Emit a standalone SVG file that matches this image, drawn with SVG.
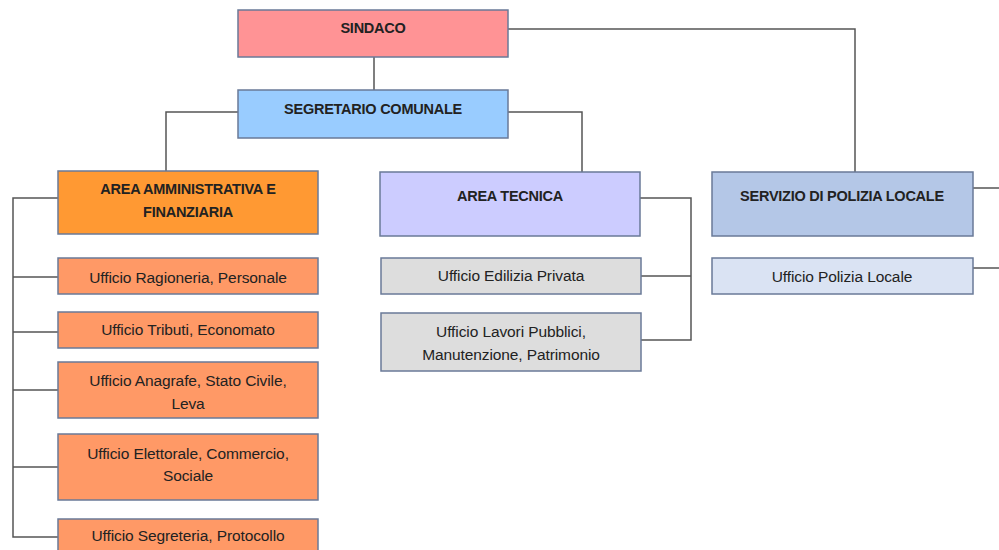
<svg xmlns="http://www.w3.org/2000/svg" width="999" height="550" viewBox="0 0 999 550">
<style>
.b{stroke:#6a7a98;stroke-width:1.5}
.c{fill:none;stroke:#555;stroke-width:1.5}
text{font-family:"Liberation Sans",Arial,sans-serif;fill:#222;text-anchor:middle;dominant-baseline:central}
.h{font-weight:bold;font-size:14.5px;letter-spacing:-0.25px}
.t{font-size:15.5px;letter-spacing:-0.1px}
</style>
<rect width="999" height="550" fill="#fff"/>
<g id="connectors">
<path class="c" d="M374 57V90"/>
<path class="c" d="M508 29H855V172"/>
<path class="c" d="M508 112H582V172"/>
<path class="c" d="M238 112H166V171"/>
<path class="c" d="M58 198H13V537H58M13 277H58M13 332H58M13 390H58M13 467H58"/>
<path class="c" d="M640 198H691V340H641M641 276H691"/>
<path class="c" d="M973 188H999M973 268H999"/>
</g>
<g id="sindaco"><rect class="b" x="238" y="10" width="270" height="47" fill="#ff9395"/><text class="h" x="373" y="28">SINDACO</text></g>
<g id="segretario"><rect class="b" x="238" y="90" width="270" height="48" fill="#99ccff"/><text class="h" x="373" y="109">SEGRETARIO COMUNALE</text></g>
<g id="area-amm"><rect class="b" x="58" y="171" width="260" height="63" fill="#ff9933"/><text class="h" x="188" y="189">AREA AMMINISTRATIVA E</text><text class="h" x="188" y="212">FINANZIARIA</text></g>
<g id="uff-ragioneria"><rect class="b" x="58" y="258" width="260" height="36" fill="#ff9966"/><text class="t" x="188" y="277">Ufficio Ragioneria, Personale</text></g>
<g id="uff-tributi"><rect class="b" x="58" y="312" width="260" height="36" fill="#ff9966"/><text class="t" x="188" y="329">Ufficio Tributi, Economato</text></g>
<g id="uff-anagrafe"><rect class="b" x="58" y="362" width="260" height="56" fill="#ff9966"/><text class="t" x="188" y="380">Ufficio Anagrafe, Stato Civile,</text><text class="t" x="188" y="403">Leva</text></g>
<g id="uff-elettorale"><rect class="b" x="58" y="434" width="260" height="66" fill="#ff9966"/><text class="t" x="188" y="453">Ufficio Elettorale, Commercio,</text><text class="t" x="188" y="475">Sociale</text></g>
<g id="uff-segreteria"><rect class="b" x="58" y="519" width="260" height="40" fill="#ff9966"/><text class="t" x="188" y="535">Ufficio Segreteria, Protocollo</text></g>
<g id="area-tecnica"><rect class="b" x="380" y="172" width="260" height="64" fill="#ccccff"/><text class="h" x="510" y="196">AREA TECNICA</text></g>
<g id="uff-edilizia"><rect class="b" x="381" y="258" width="260" height="36" fill="#dddddd"/><text class="t" x="511" y="275">Ufficio Edilizia Privata</text></g>
<g id="uff-lavori"><rect class="b" x="381" y="313" width="260" height="58" fill="#dddddd"/><text class="t" x="511" y="331">Ufficio Lavori Pubblici,</text><text class="t" x="511" y="354">Manutenzione, Patrimonio</text></g>
<g id="servizio-polizia"><rect class="b" x="712" y="172" width="261" height="64" fill="#b4c7e7"/><text class="h" x="842" y="196">SERVIZIO DI POLIZIA LOCALE</text></g>
<g id="uff-polizia"><rect class="b" x="712" y="258" width="261" height="36" fill="#dae3f3"/><text class="t" x="842" y="276">Ufficio Polizia Locale</text></g>
</svg>
